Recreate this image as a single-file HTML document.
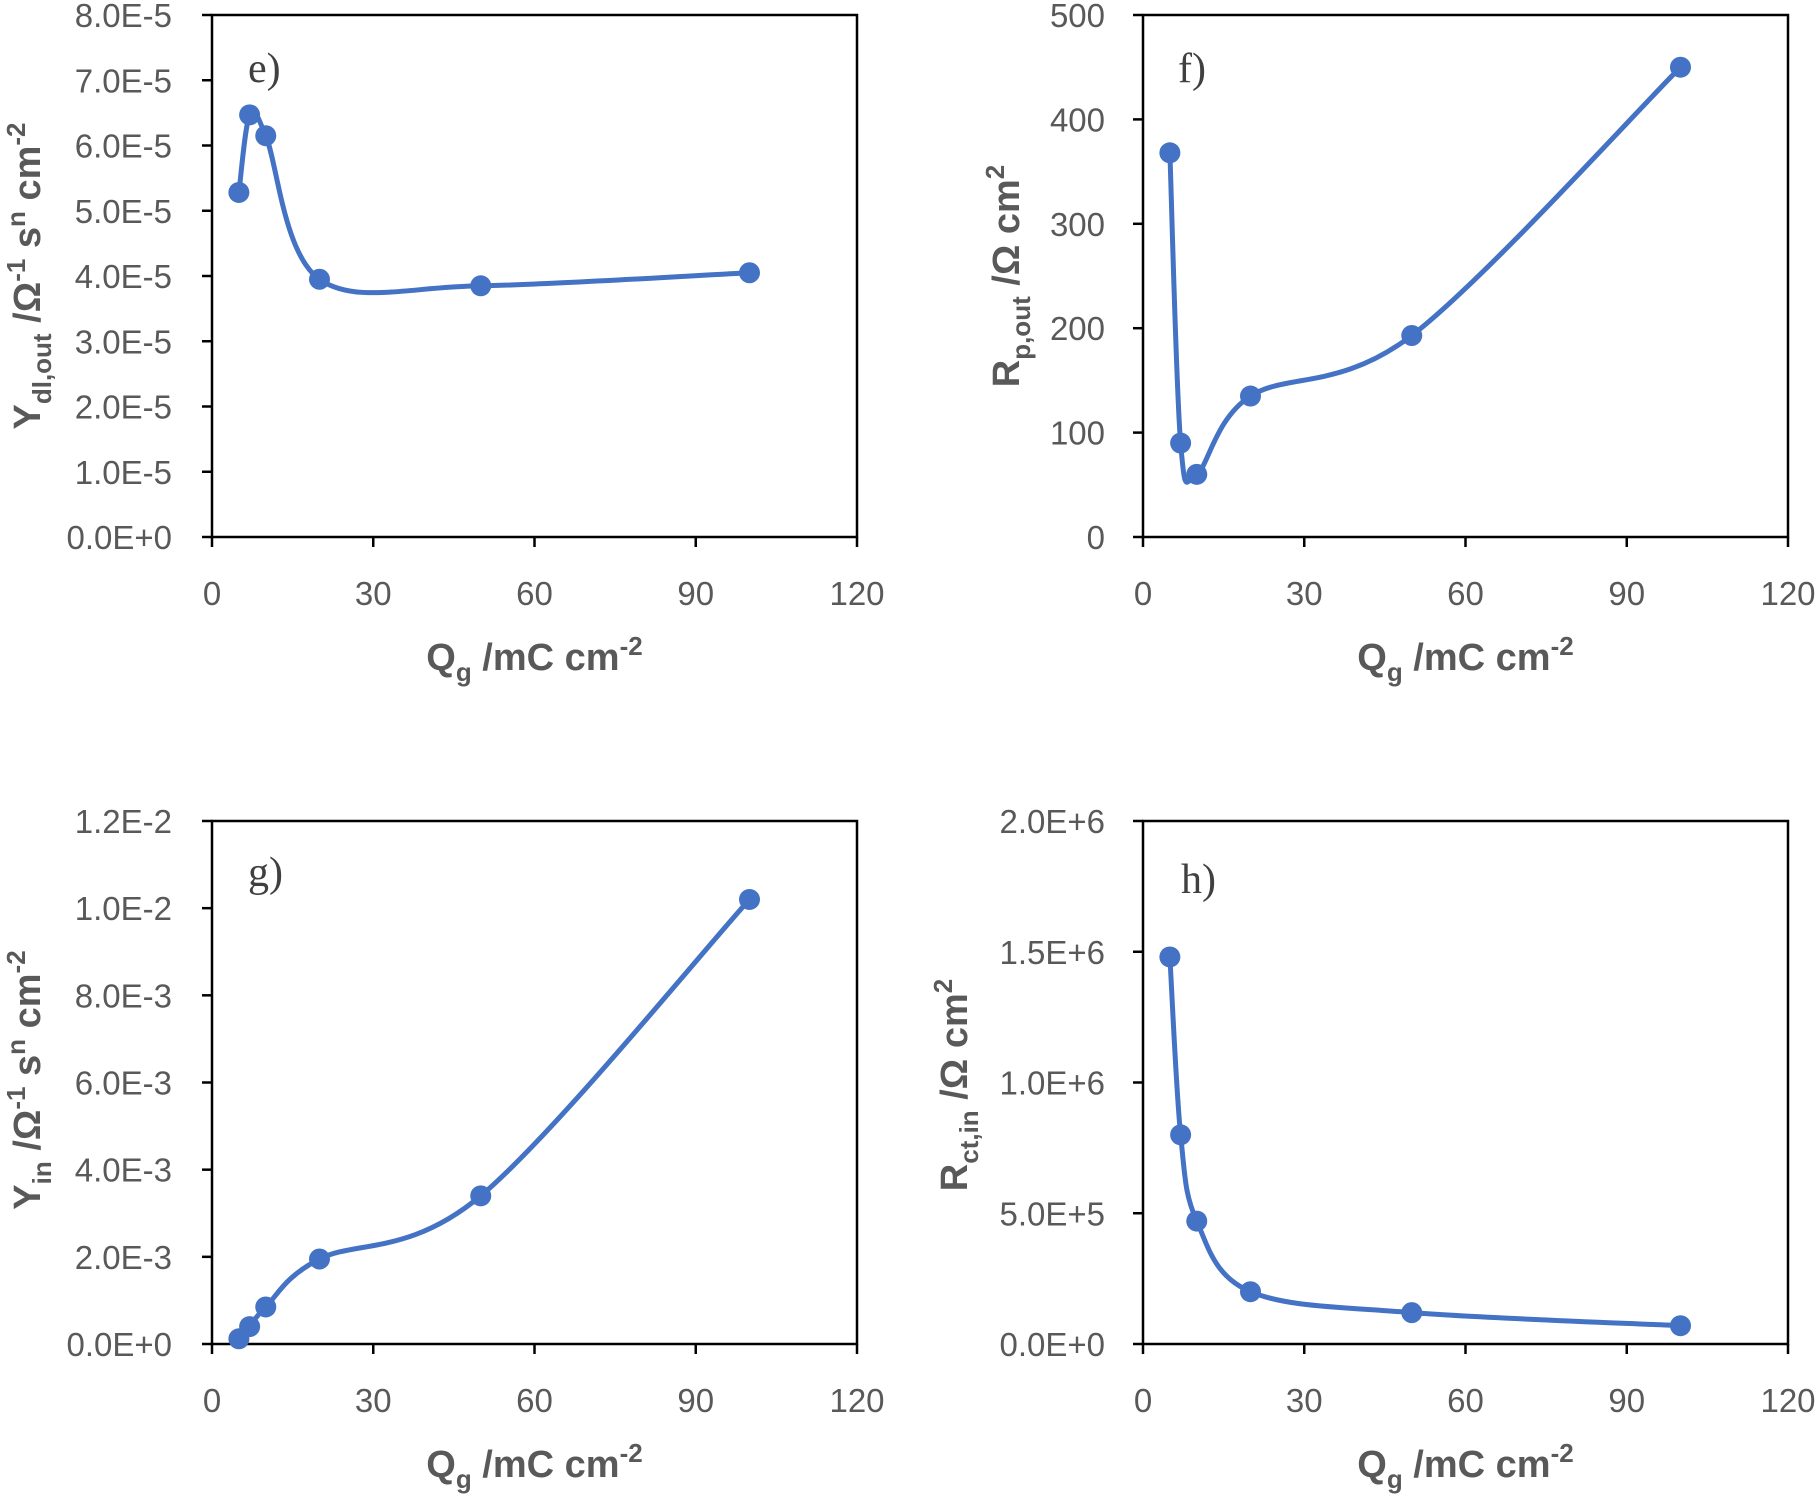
<!DOCTYPE html>
<html><head><meta charset="utf-8"><style>
body{margin:0;background:#fff;}
svg{display:block;}
.tick{font-family:"Liberation Sans Narrow","Liberation Sans",sans-serif;font-size:33px;fill:#595959;}
.ttl{font-family:"Liberation Sans",sans-serif;font-weight:bold;font-size:38px;fill:#595959;}
.pl{font-family:"Liberation Serif",serif;font-size:42px;fill:#404040;}
</style></head><body>
<svg id="c" width="1820" height="1495" viewBox="0 0 1820 1495" xmlns="http://www.w3.org/2000/svg"></svg>
<script>
const xVals = [5, 7, 10, 20, 50, 100];
const eVals = [5.28e-5, 6.47e-5, 6.15e-5, 3.95e-5, 3.85e-5, 4.05e-5];
const fVals = [368, 90, 60, 135, 193, 450];
const gVals = [0.12e-3, 0.40e-3, 0.85e-3, 1.95e-3, 3.40e-3, 10.2e-3];
const hVals = [1.48e6, 0.80e6, 0.47e6, 0.20e6, 0.12e6, 0.07e6];
const xTicks = [0, 30, 60, 90, 120];
const eTicks = ["0.0E+0","1.0E-5","2.0E-5","3.0E-5","4.0E-5","5.0E-5","6.0E-5","7.0E-5","8.0E-5"];
const fTicks = ["0","100","200","300","400","500"];
const gTicks = ["0.0E+0","2.0E-3","4.0E-3","6.0E-3","8.0E-3","1.0E-2","1.2E-2"];
const hTicks = ["0.0E+0","5.0E+5","1.0E+6","1.5E+6","2.0E+6"];

const NS = "http://www.w3.org/2000/svg";
const svg = document.getElementById('c');
function mk(tag, attrs, parent){const el=document.createElementNS(NS,tag);for(const k in attrs)el.setAttribute(k,attrs[k]);(parent||svg).appendChild(el);return el;}

const panels = [
 {name:'e', vals:eVals, ticks:eTicks, ymax:8e-5, L:212, R:857, T:15, B:537, tx:172, label:'e)', lx:248, ly:82, title:'Y<tspan dy="11" font-size="26">dl,out</tspan><tspan dy="-11"> /Ω</tspan><tspan dy="-15" font-size="26">-1</tspan><tspan dy="15"> s</tspan><tspan dy="-15" font-size="26">n</tspan><tspan dy="15"> cm</tspan><tspan dy="-15" font-size="26">-2</tspan>', ttx:26, tty:276},
 {name:'f', vals:fVals, ticks:fTicks, ymax:500, L:1143, R:1788, T:15, B:537, tx:1105, label:'f)', lx:1178, ly:82, title:'R<tspan dy="11" font-size="26">p,out</tspan><tspan dy="-11"> /Ω cm</tspan><tspan dy="-15" font-size="26">2</tspan>', ttx:1005, tty:276},
 {name:'g', vals:gVals, ticks:gTicks, ymax:12e-3, L:212, R:857, T:821, B:1344, tx:172, label:'g)', lx:248, ly:886, title:'Y<tspan dy="11" font-size="26">in</tspan><tspan dy="-11"> /Ω</tspan><tspan dy="-15" font-size="26">-1</tspan><tspan dy="15"> s</tspan><tspan dy="-15" font-size="26">n</tspan><tspan dy="15"> cm</tspan><tspan dy="-15" font-size="26">-2</tspan>', ttx:26, tty:1080},
 {name:'h', vals:hVals, ticks:hTicks, ymax:2e6, L:1143, R:1788, T:821, B:1344, tx:1105, label:'h)', lx:1181, ly:893, title:'R<tspan dy="11" font-size="26">ct,in</tspan><tspan dy="-11"> /Ω cm</tspan><tspan dy="-15" font-size="26">2</tspan>', ttx:953, tty:1085}
];

panels.forEach(p=>{
  const g = mk('g',{});
  
  
  const xs = v => p.L + (v-0)/(120-0)*(p.R-p.L);
  const ys = v => p.B - v/p.ymax*(p.B-p.T);
  const frame = mk('rect',{x:p.L,y:p.T,width:p.R-p.L,height:p.B-p.T,fill:'none',stroke:'#000','stroke-width':2.5},g);
  
  
  p.ticks.forEach((t,i)=>{
    const y = p.B - i/(p.ticks.length-1)*(p.B-p.T);
    mk('line',{x1:p.L-10,x2:p.L,y1:y,y2:y,stroke:'#000','stroke-width':2.5},g);
    const tx = mk('text',{x:p.tx,y:y+12,'text-anchor':'end',class:'tick'},g);
    
    
    tx.textContent=t;
  });
  xTicks.forEach(t=>{
    const x = xs(t);
    mk('line',{x1:x,x2:x,y1:p.B,y2:p.B+10,stroke:'#000','stroke-width':2.5},g);
    const tx = mk('text',{x:x,y:p.B+68,'text-anchor':'middle',class:'tick'},g);
    
    
    tx.textContent=t;
  });
  const xt = mk('text',{x:(p.L+p.R)/2,y:p.B+133,'text-anchor':'middle',class:'ttl'},g);
  
  
  xt.innerHTML='Q<tspan dy="11" font-size="26">g</tspan><tspan dy="-11"> /mC cm</tspan><tspan dy="-15" font-size="26">-2</tspan>';
  const yt = mk('text',{x:0,y:0,'text-anchor':'middle',class:'ttl',transform:`translate(${p.ttx+14},${p.tty}) rotate(-90)`},g);
  
  
  yt.innerHTML=p.title;
  const pl = mk('text',{x:p.lx,y:p.ly,class:'pl'},g);
  
  
  pl.textContent=p.label;
  const pts = xVals.map((x,i)=>[xs(x),ys(p.vals[i])]);
  let d = `M${pts[0][0]},${pts[0][1]}`;
  for(let i=0;i<pts.length-1;i++){
    const p0=pts[Math.max(0,i-1)],p1=pts[i],p2=pts[i+1],p3=pts[Math.min(pts.length-1,i+2)];
    const c1=[p1[0]+(p2[0]-p0[0])/6,p1[1]+(p2[1]-p0[1])/6];
    const c2=[p2[0]-(p3[0]-p1[0])/6,p2[1]-(p3[1]-p1[1])/6];
    d+=` C${c1[0]},${c1[1]} ${c2[0]},${c2[1]} ${p2[0]},${p2[1]}`;
  }
  const line = mk('path',{d:d,fill:'none',stroke:'#4472C4','stroke-width':5},g);
  
  
  pts.forEach(pt=>{
    const c = mk('circle',{cx:pt[0],cy:pt[1],r:10.5,fill:'#4472C4'},g);
    
    
  });
});
</script>
</body></html>
